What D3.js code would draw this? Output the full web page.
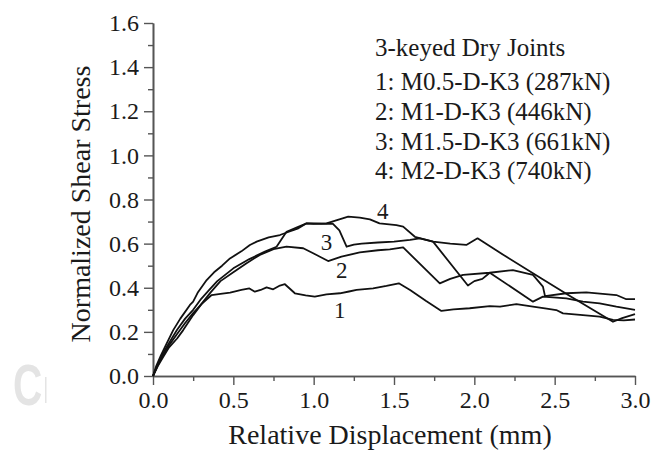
<!DOCTYPE html>
<html>
<head>
<meta charset="utf-8">
<script src="https://cdn.jsdelivr.net/npm/d3@7"></script>
<style>
  body { margin: 0; background: #fff; }
  svg text { font-family: "Liberation Serif", "Times New Roman", serif; fill: #1a1a1a; }
</style>
</head>
<body>
<div class="chart"></div>
<script>
var width = 654, height = 451;

// tick values
var xTicks = [0, 0.5, 1.0, 1.5, 2.0, 2.5, 3.0];
var xMinor = [0.25, 0.75, 1.25, 1.75, 2.25, 2.75];
var yTicks = [0, 0.2, 0.4, 0.6, 0.8, 1.0, 1.2, 1.4, 1.6];
var yMinor = [0.1, 0.3, 0.5, 0.7, 0.9, 1.1, 1.3, 1.5];

var legendLines = ["3-keyed Dry Joints", "1: M0.5-D-K3 (287kN)", "2: M1-D-K3 (446kN)", "3: M1.5-D-K3 (661kN)", "4: M2-D-K3 (740kN)"];

// curve 1: M0.5-D-K3
var disp1 = [0, 0.03, 0.06, 0.1, 0.15, 0.2, 0.25, 0.3, 0.365, 0.42, 0.48, 0.55, 0.6, 0.634, 0.67, 0.707, 0.748, 0.79, 0.821, 0.883, 0.95, 1.007, 1.08, 1.163, 1.22, 1.267, 1.37, 1.453, 1.53, 1.6, 1.7, 1.795, 1.87, 1.971, 2.096, 2.16, 2.262, 2.365, 2.45, 2.51, 2.552, 2.676, 2.78, 2.863, 2.93, 3.0];
var stress1 = [0, 0.05, 0.09, 0.14, 0.19, 0.24, 0.285, 0.325, 0.367, 0.372, 0.378, 0.39, 0.397, 0.382, 0.39, 0.402, 0.393, 0.41, 0.416, 0.375, 0.365, 0.36, 0.37, 0.375, 0.383, 0.39, 0.397, 0.408, 0.42, 0.39, 0.34, 0.295, 0.302, 0.307, 0.317, 0.314, 0.326, 0.314, 0.305, 0.299, 0.284, 0.276, 0.269, 0.254, 0.252, 0.256];

// curve 2: M1-D-K3
var disp2 = [0, 0.03, 0.064, 0.1, 0.15, 0.188, 0.25, 0.313, 0.36, 0.42, 0.5, 0.58, 0.665, 0.75, 0.831, 0.935, 1.0, 1.09, 1.173, 1.287, 1.4, 1.474, 1.557, 1.785, 1.85, 1.93, 2.096, 2.24, 2.365, 2.427, 2.44, 2.573, 2.697, 2.884, 2.946, 3.0];
var stress2 = [0, 0.045, 0.087, 0.13, 0.17, 0.208, 0.276, 0.337, 0.38, 0.43, 0.47, 0.51, 0.549, 0.575, 0.586, 0.579, 0.555, 0.521, 0.541, 0.56, 0.57, 0.574, 0.583, 0.42, 0.44, 0.458, 0.468, 0.48, 0.458, 0.405, 0.362, 0.375, 0.379, 0.367, 0.348, 0.348];

// curve 3: M1.5-D-K3
var disp3 = [0, 0.03, 0.06, 0.1, 0.15, 0.2, 0.25, 0.3, 0.35, 0.4, 0.5, 0.6, 0.7, 0.769, 0.8, 0.831, 0.9, 0.956, 1.05, 1.12, 1.16, 1.205, 1.25, 1.3, 1.4, 1.5, 1.6, 1.66, 1.743, 1.85, 1.95, 2.02, 2.2, 2.4, 2.6, 2.863, 2.92, 3.0];
var stress3 = [0, 0.05, 0.1, 0.15, 0.21, 0.26, 0.3, 0.35, 0.39, 0.43, 0.488, 0.53, 0.565, 0.586, 0.62, 0.654, 0.675, 0.692, 0.69, 0.69, 0.66, 0.586, 0.595, 0.6, 0.605, 0.609, 0.617, 0.624, 0.609, 0.6, 0.594, 0.624, 0.54, 0.45, 0.36, 0.246, 0.262, 0.28];

// curve 4: M2-D-K3
var disp4 = [0, 0.02, 0.05, 0.08, 0.126, 0.17, 0.23, 0.25, 0.28, 0.334, 0.38, 0.43, 0.479, 0.55, 0.603, 0.645, 0.72, 0.79, 0.85, 0.9, 0.956, 1.0, 1.08, 1.15, 1.215, 1.287, 1.35, 1.41, 1.515, 1.557, 1.63, 1.743, 1.96, 2.0, 2.05, 2.096, 2.365, 2.427, 2.573, 2.676, 2.78, 2.884, 3.0];
var stress4 = [0, 0.045, 0.095, 0.14, 0.208, 0.26, 0.322, 0.337, 0.38, 0.435, 0.47, 0.5, 0.533, 0.565, 0.594, 0.609, 0.628, 0.639, 0.655, 0.668, 0.692, 0.69, 0.692, 0.708, 0.722, 0.718, 0.71, 0.692, 0.684, 0.677, 0.631, 0.609, 0.41, 0.43, 0.44, 0.468, 0.337, 0.36, 0.352, 0.337, 0.329, 0.314, 0.3];

var curveLabels = ["1", "2", "3", "4"];
var labelX = [1.163, 1.175, 1.08, 1.43];
var labelY = [0.3, 0.48, 0.607, 0.748];

var allDisp = [disp1, disp2, disp3, disp4];
var allStress = [stress1, stress2, stress3, stress4];

var svg = d3.select(".chart").append("svg").attr("width", width).attr("height", height);

// faint watermark left behind in the scan
svg.append("text").attr("transform", "translate(13,405) scale(0.7,1)").text("C")
	.style("font-family", "Liberation Sans, Arial, sans-serif").style("font-weight", "bold")
	.style("font-size", "58px").style("fill", "#e4e4e4");
svg.append("rect").attr("x", 45).attr("y", 377).attr("width", 1.5).attr("height", 26).attr("fill", "#e4e4e4");

var x = d3.scaleLinear().domain([0, 3]).range([153, 635]);
var y = d3.scaleLinear().domain([0, 1.6]).range([376, 23]);

//axes
var axisColor = "#555";
function styleAxis(g) {
	g.select(".domain").attr("stroke", axisColor).attr("stroke-width", 1.6);
	g.selectAll(".tick line").attr("stroke", axisColor).attr("stroke-width", 1.4);
}

svg.append("g").attr("transform", "translate(0,376)")
	.call(d3.axisBottom(x).tickValues(xMinor).tickSize(5).tickFormat("").tickSizeOuter(0))
	.call(styleAxis);
var gx = svg.append("g").attr("transform", "translate(0,376)")
	.call(d3.axisBottom(x).tickValues(xTicks).tickSize(9).tickSizeOuter(0).tickPadding(6).tickFormat(d3.format(".1f")))
	.call(styleAxis);
gx.selectAll("text").style("font-size", "24px").style("font-family", "Liberation Serif, serif").attr("fill", "#1a1a1a");

svg.append("g").attr("transform", "translate(153,0)")
	.call(d3.axisLeft(y).tickValues(yMinor).tickSize(5).tickFormat("").tickSizeOuter(0))
	.call(styleAxis);
var gy = svg.append("g").attr("transform", "translate(153,0)")
	.call(d3.axisLeft(y).tickValues(yTicks).tickSize(9).tickSizeOuter(0).tickPadding(5).tickFormat(d3.format(".1f")))
	.call(styleAxis);
gy.selectAll("text").style("font-size", "24px").style("font-family", "Liberation Serif, serif").attr("fill", "#1a1a1a");

// axis titles
svg.append("text").attr("x", 390).attr("y", 444).attr("text-anchor", "middle")
	.style("font-size", "28px").text("Relative Displacement (mm)");
svg.append("text").attr("transform", "translate(90,204) rotate(-90)").attr("text-anchor", "middle")
	.style("font-size", "28px").text("Normalized Shear Stress");

// curves
var line = d3.line().x(function(d) { return x(d[0]); }).y(function(d) { return y(d[1]); });
allDisp.forEach(function(dx, i) {
	var pts = dx.map(function(v, j) { return [v, allStress[i][j]]; });
	svg.append("path").datum(pts).attr("d", line)
		.attr("fill", "none").attr("stroke", "#111").attr("stroke-width", 1.8).attr("stroke-linejoin", "round");
});

// curve numbers
curveLabels.forEach(function(t, i) {
	svg.append("text").attr("x", x(labelX[i])).attr("y", y(labelY[i])).attr("dy", ".35em")
		.attr("text-anchor", "middle").style("font-size", "23px").text(t);
});

// legend text
var legendBase = [56, 90, 120, 149.5, 179];
legendLines.forEach(function(t, i) {
	svg.append("text").attr("x", 375).attr("y", legendBase[i]).style("font-size", "25px").text(t);
});
</script>
</body>
</html>
